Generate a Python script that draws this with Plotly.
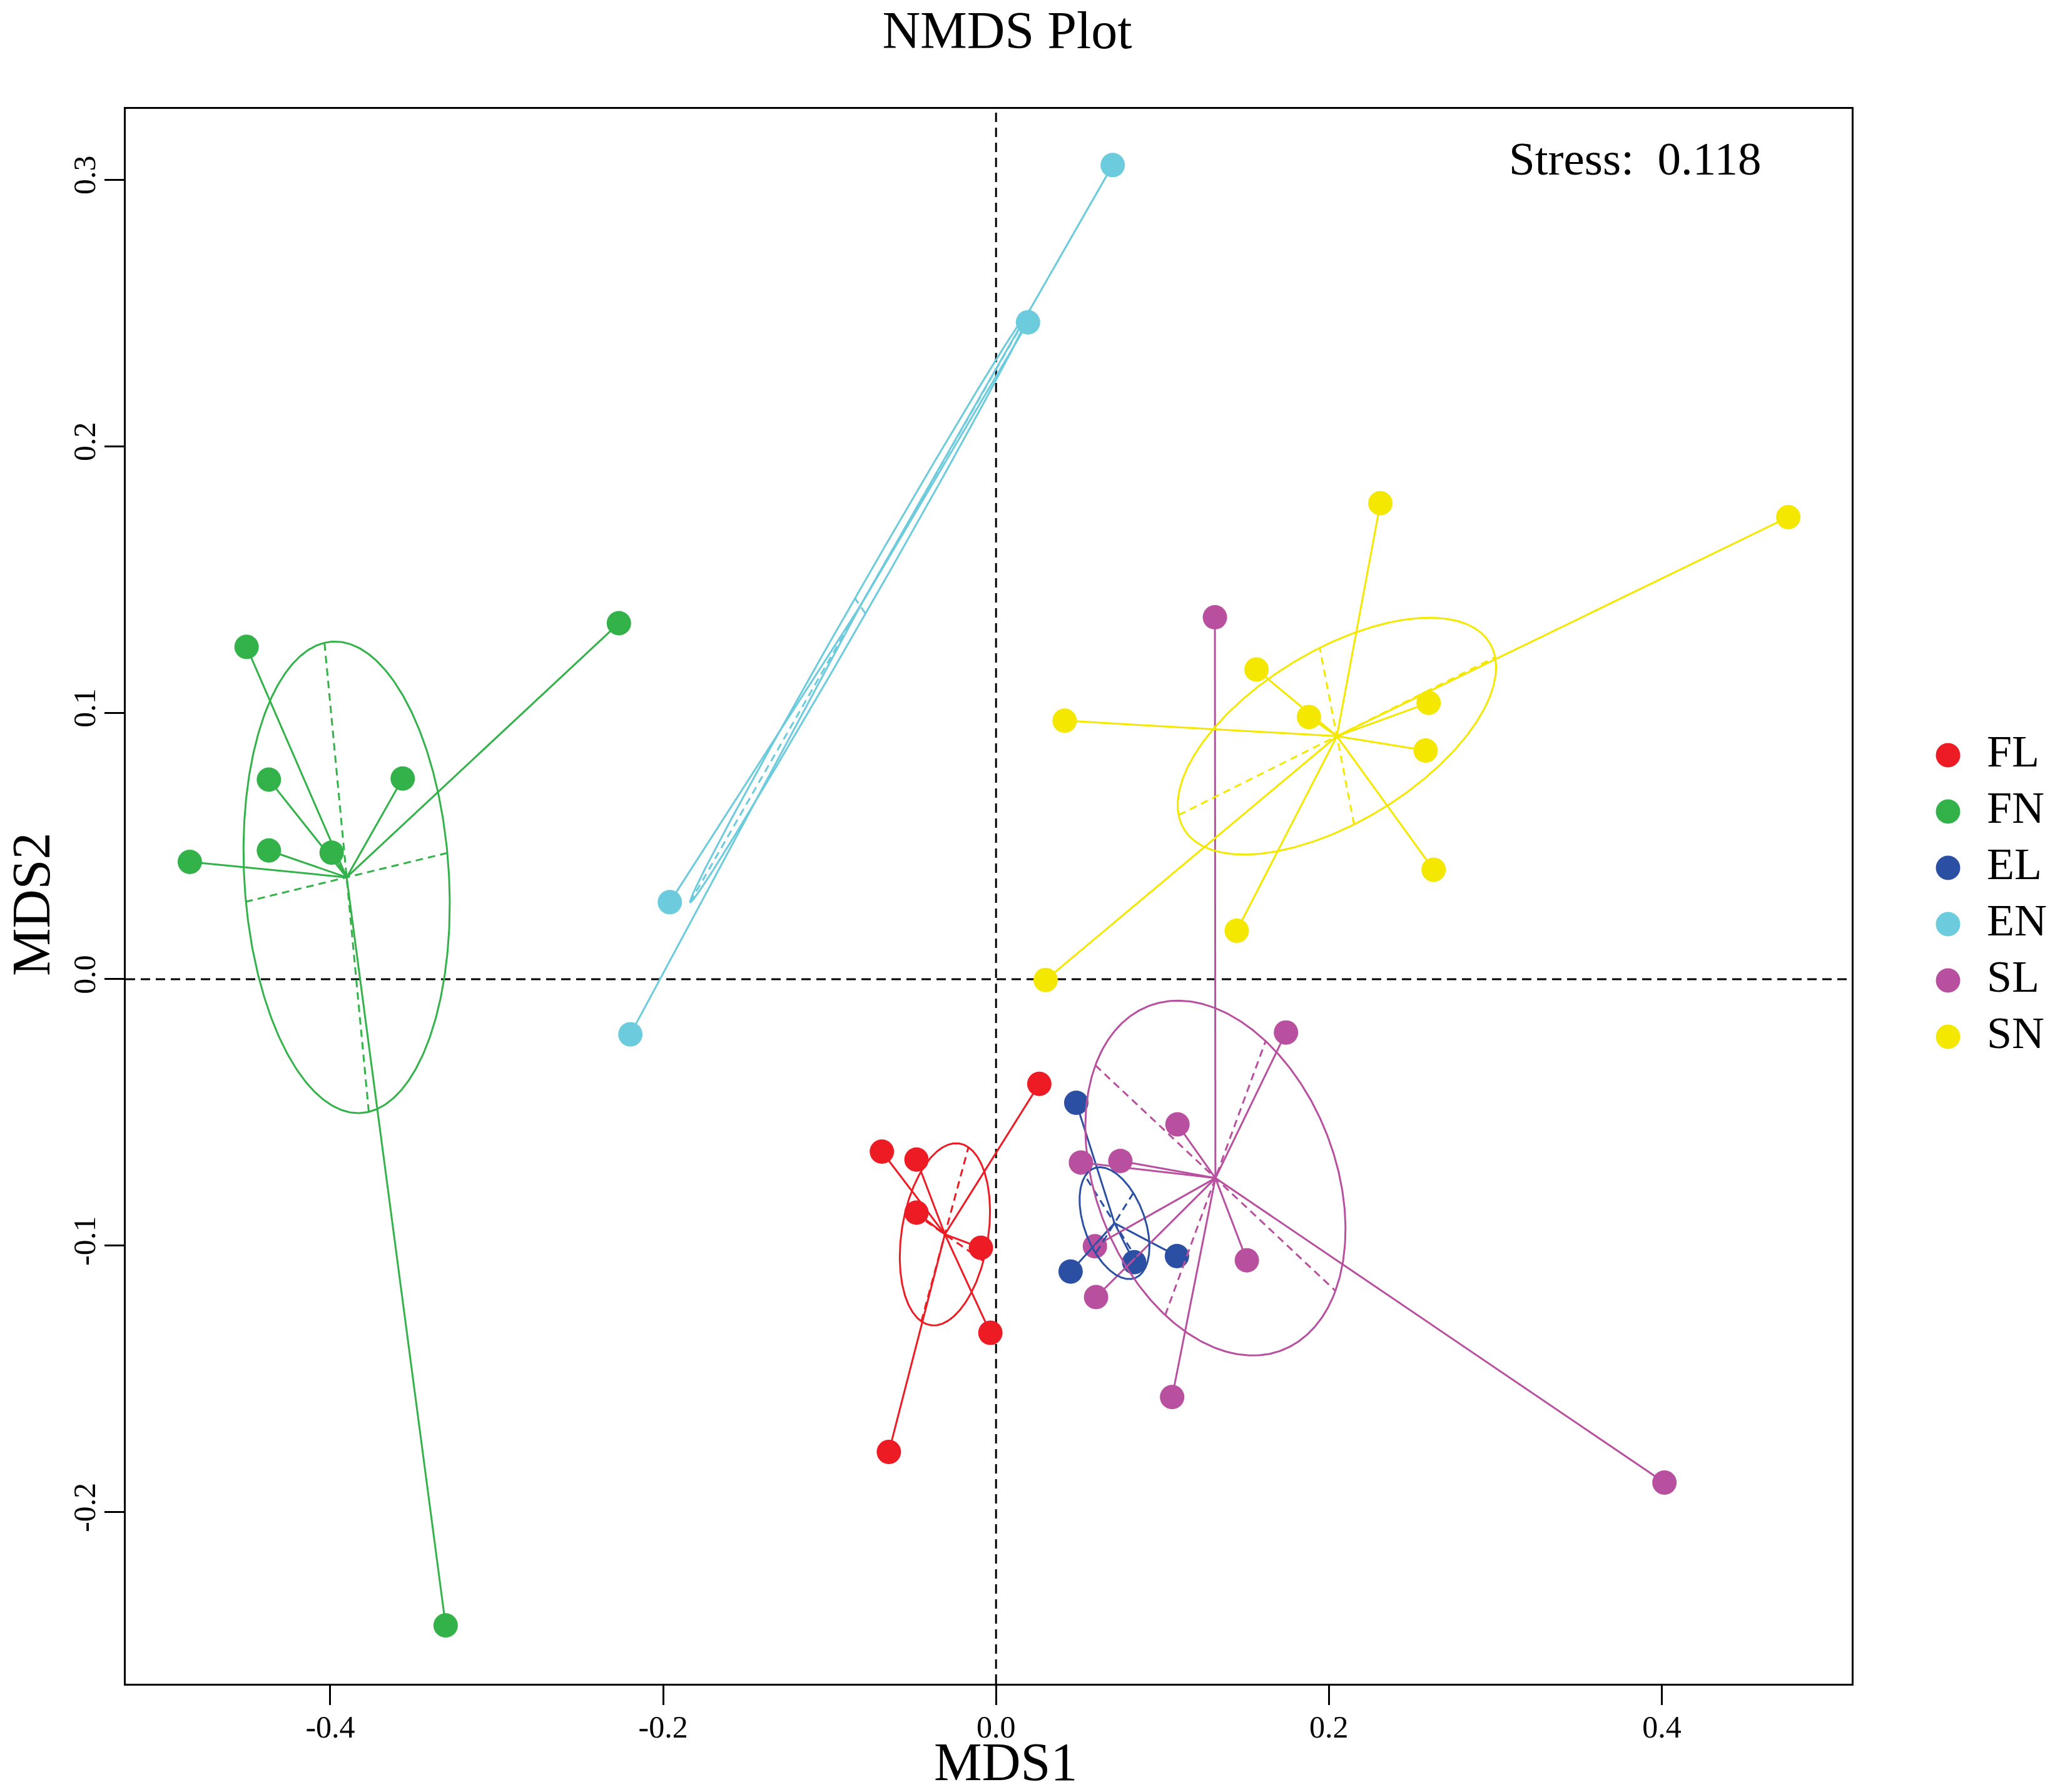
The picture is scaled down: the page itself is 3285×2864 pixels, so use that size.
import numpy as np
import plotly.graph_objects as go

# groups and colours
groups = ["FL", "FN", "EL", "EN", "SL", "SN"]
colors = ["#ED1C24", "#33B24A", "#2B50A3", "#6CCBDC", "#B8509F", "#F4E800"]

# NMDS site scores
fl_x = [0.0260, -0.0686, -0.0478, -0.0478, -0.0091, -0.0034, -0.0644]
fl_y = [-0.0393, -0.0647, -0.0677, -0.0876, -0.1008, -0.1327, -0.1774]

fn_x = [-0.4503, -0.2266, -0.4369, -0.3565, -0.4369, -0.3992, -0.4844, -0.3307]
fn_y = [0.1247, 0.1336, 0.0749, 0.0753, 0.0483, 0.0475, 0.0440, -0.2425]

el_x = [0.0482, 0.0448, 0.0830, 0.1087]
el_y = [-0.0464, -0.1097, -0.1062, -0.1039]

en_x = [0.0701, 0.0192, -0.1960, -0.2197]
en_y = [0.3055, 0.2465, 0.0289, -0.0207]

sl_x = [0.1742, 0.1090, 0.0510, 0.0747, 0.0594, 0.0601, 0.1507, 0.1058, 0.1315, 0.4016]
sl_y = [-0.0200, -0.0545, -0.0688, -0.0682, -0.1002, -0.1193, -0.1055, -0.1568, 0.1358, -0.1889]

sn_x = [0.2309, 0.4760, 0.1565, 0.0412, 0.1880, 0.2599, 0.2581, 0.2629, 0.1446, 0.0298]
sn_y = [0.1786, 0.1734, 0.1162, 0.0970, 0.0984, 0.1037, 0.0858, 0.0411, 0.0182, -0.0003]

# ellipse semi axes and rotation (degrees), one per group
ell_a = [0.0356, 0.0890, 0.0250, 0.1510, 0.0836, 0.0996]
ell_b = [0.0252, 0.0612, 0.0160, 0.0043, 0.0596, 0.0347]
ell_angle = [66.6, 98.6, 135.0, 47.4, -30.4, 17.3]

xticks = [-0.4, -0.2, 0.0, 0.2, 0.4]
xtick_text = ["-0.4", "-0.2", "0.0", "0.2", "0.4"]
yticks = [-0.2, -0.1, 0.0, 0.1, 0.2, 0.3]
ytick_text = ["-0.2", "-0.1", "0.0", "0.1", "0.2", "0.3"]

stress = 0.118

all_x = [fl_x, fn_x, el_x, en_x, sl_x, sn_x]
all_y = [fl_y, fn_y, el_y, en_y, sl_y, sn_y]

FONT = "Liberation Serif, Times New Roman, serif"

# the page body has an 8px margin, so everything is placed 8px up/left
OFF = 8
W, H = 3285 - 2 * OFF, 2864 - 2 * OFF
L, R, T, B = 201 - OFF, 2960 - OFF, 174 - OFF, 2691 - OFF   # plot box
PW, PH = W - L, B - T


def px_x(s):
    # screen x -> paper x
    return (s - OFF - L) / PW


def px_y(s):
    # screen y -> paper y
    return (B - (s - OFF)) / PH


fig = go.Figure()

# points first, lines drawn over them (like the R plot)
for col, xs, ys in zip(colors, all_x, all_y):
    fig.add_trace(go.Scatter(x=xs, y=ys, mode="markers",
                             marker=dict(size=39, color=col, line=dict(width=0)),
                             showlegend=False, hoverinfo="skip"))

centers = []
for col, xs, ys in zip(colors, all_x, all_y):
    cx, cy = float(np.mean(xs)), float(np.mean(ys))
    centers.append((cx, cy))
    sx, sy = [], []
    for x, y in zip(xs, ys):
        sx += [cx, x, None]
        sy += [cy, y, None]
    fig.add_trace(go.Scatter(x=sx, y=sy, mode="lines",
                             line=dict(color=col, width=3),
                             showlegend=False, hoverinfo="skip"))

t = np.linspace(0, 2 * np.pi, 361)
for col, (cx, cy), a, b, ang in zip(colors, centers, ell_a, ell_b, ell_angle):
    th = np.radians(ang)
    ex = cx + a * np.cos(t) * np.cos(th) - b * np.sin(t) * np.sin(th)
    ey = cy + a * np.cos(t) * np.sin(th) + b * np.sin(t) * np.cos(th)
    fig.add_trace(go.Scatter(x=ex, y=ey, mode="lines",
                             line=dict(color=col, width=3),
                             showlegend=False, hoverinfo="skip"))
    # ellipse axes, dashed
    ax = [cx - a * np.cos(th), cx + a * np.cos(th), None,
          cx + b * np.sin(th), cx - b * np.sin(th)]
    ay = [cy - a * np.sin(th), cy + a * np.sin(th), None,
          cy - b * np.cos(th), cy + b * np.cos(th)]
    fig.add_trace(go.Scatter(x=ax, y=ay, mode="lines",
                             line=dict(color=col, width=3, dash="12px,8px"),
                             showlegend=False, hoverinfo="skip"))

# hand-made legend on a second pair of axes (big dots)
leg_x0 = L + 0.9 * PW
leg_y = [-k for k in range(len(groups))]
fig.add_trace(go.Scatter(x=[(3114 - OFF - leg_x0) / (0.1 * PW)] * len(groups), y=leg_y,
                         mode="markers", marker=dict(size=39, color=colors, line=dict(width=0)),
                         xaxis="x2", yaxis="y2", showlegend=False, hoverinfo="skip"))
fig.add_trace(go.Scatter(x=[(3176 - OFF - leg_x0) / (0.1 * PW)] * len(groups), y=leg_y,
                         mode="text", text=groups, textposition="middle right",
                         textfont=dict(size=72, color="black", family=FONT),
                         xaxis="x2", yaxis="y2", showlegend=False, hoverinfo="skip"))

span = PH / 90.0
top = (1207 - OFF - T) / 90.0

axis_common = dict(showgrid=False, zeroline=False, showline=True, mirror=True,
                   linecolor="black", linewidth=3, ticks="outside", ticklen=31,
                   tickwidth=3, tickcolor="black",
                   tickfont=dict(size=50, color="black", family=FONT))

fig.update_layout(
    width=W, height=H,
    margin=dict(l=L, r=0, t=T, b=H - B),
    paper_bgcolor="white", plot_bgcolor="white",
    font=dict(family=FONT, color="black"),
    title=dict(text="NMDS Plot", x=(1610 - OFF) / W, xref="container", xanchor="center",
               y=1 - (48 - OFF) / H, yref="container", yanchor="middle",
               font=dict(size=84, color="black", family=FONT)),
    xaxis=dict(range=[-0.5229, 0.5141], domain=[0, (R - L) / PW],
               tickvals=xticks, ticktext=xtick_text, ticklabelstandoff=-8,
               **axis_common),
    yaxis=dict(range=[-0.2644, 0.3266], tickvals=yticks, ticktext=ytick_text,
               tickangle=-90, ticklabelstandoff=-5, **axis_common),
    xaxis2=dict(domain=[0.9, 1.0], range=[0, 1], visible=False, anchor="y2"),
    yaxis2=dict(domain=[0, 1], range=[top - span, top], visible=False, anchor="x2"),
    showlegend=False,
    shapes=[
        dict(type="line", xref="x", yref="y domain", x0=0, x1=0, y0=0, y1=1,
             line=dict(color="black", width=3, dash="15px,9px"), layer="below"),
        dict(type="line", xref="x domain", yref="y", x0=0, x1=1, y0=0, y1=0,
             line=dict(color="black", width=3, dash="15px,9px"), layer="below"),
    ],
    annotations=[
        dict(text="MDS1", xref="paper", yref="paper", x=px_x(1607), y=px_y(2816),
             xanchor="center", yanchor="middle",
             showarrow=False, font=dict(size=86, family=FONT, color="black")),
        dict(text="MDS2", xref="paper", yref="paper", x=px_x(50), y=px_y(1446),
             xanchor="center", yanchor="middle", textangle=-90,
             showarrow=False, font=dict(size=86, family=FONT, color="black")),
        dict(text="Stress:&nbsp; {:.3f}".format(stress), xref="paper", yref="paper",
             x=px_x(2818), y=px_y(253), xanchor="right", yanchor="middle",
             showarrow=False, font=dict(size=75, family=FONT, color="black")),
    ],
)

fig.write_html("out.html")
